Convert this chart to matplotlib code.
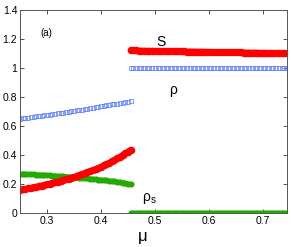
import numpy as np
import matplotlib
matplotlib.use("Agg")
import matplotlib.pyplot as plt

plt.rcParams['font.family'] = ['Liberation Sans', 'DejaVu Sans']

# branch below the transition (mu ~ 0.25 .. 0.455)
mu_low = np.linspace(0.25, 0.455, 42)
S_low = [0.160, 0.163, 0.166, 0.170, 0.173, 0.177, 0.181, 0.185, 0.189, 0.193,
         0.197, 0.202, 0.206, 0.211, 0.216, 0.221, 0.226, 0.231, 0.237, 0.242,
         0.248, 0.254, 0.260, 0.266, 0.273, 0.280, 0.287, 0.294, 0.302, 0.310,
         0.318, 0.327, 0.336, 0.345, 0.355, 0.365, 0.376, 0.387, 0.399, 0.411,
         0.423, 0.435]
rho_low = [0.650, 0.652, 0.655, 0.657, 0.660, 0.662, 0.665, 0.668, 0.670, 0.673,
           0.676, 0.678, 0.681, 0.684, 0.687, 0.690, 0.692, 0.695, 0.698, 0.701,
           0.704, 0.707, 0.710, 0.713, 0.716, 0.719, 0.722, 0.725, 0.728, 0.731,
           0.735, 0.738, 0.741, 0.744, 0.748, 0.751, 0.754, 0.758, 0.761, 0.765,
           0.768, 0.772]
rhos_low = [0.270, 0.269, 0.268, 0.267, 0.266, 0.265, 0.264, 0.263, 0.262, 0.261,
            0.260, 0.259, 0.257, 0.256, 0.255, 0.253, 0.252, 0.251, 0.249, 0.248,
            0.246, 0.245, 0.243, 0.241, 0.240, 0.238, 0.236, 0.234, 0.232, 0.230,
            0.228, 0.226, 0.224, 0.222, 0.219, 0.217, 0.214, 0.212, 0.209, 0.206,
            0.202, 0.197]

# branch above the transition (mu ~ 0.455 .. 0.745)
mu_high = np.linspace(0.455, 0.745, 59)
S_high = [1.120, 1.120, 1.120, 1.119, 1.119, 1.119, 1.118, 1.118, 1.118, 1.117,
          1.117, 1.117, 1.116, 1.116, 1.116, 1.115, 1.115, 1.115, 1.114, 1.114,
          1.114, 1.113, 1.113, 1.113, 1.112, 1.112, 1.112, 1.111, 1.111, 1.111,
          1.110, 1.110, 1.110, 1.109, 1.109, 1.109, 1.108, 1.108, 1.108, 1.107,
          1.107, 1.107, 1.106, 1.106, 1.106, 1.105, 1.105, 1.105, 1.104, 1.104,
          1.104, 1.103, 1.103, 1.103, 1.102, 1.102, 1.102, 1.101, 1.101]
rho_high = [0.998] * 59
rhos_high = [0.0] * 59

xticks = [0.3, 0.4, 0.5, 0.6, 0.7]
yticks = [0, 0.2, 0.4, 0.6, 0.8, 1, 1.2, 1.4]
ytick_labels = ["0", "0.2", "0.4", "0.6", "0.8", "1", "1.2", "1.4"]

fig = plt.figure(figsize=(2.91, 2.47), dpi=100)
ax = fig.add_axes([0.069, 0.138, 0.917, 0.822])

red = "#ff0000"
green = "#22aa00"
blue = "#5577ff"

for mu, s, r, rs in [(mu_low, S_low, rho_low, rhos_low),
                     (mu_high, S_high, rho_high, rhos_high)]:
    ax.plot(mu, r, ls="none", marker="s", ms=2.5, mfc="none", mec=blue, mew=0.5)
    ax.plot(mu, rs, ls="-", lw=3.2, marker="o", ms=3.4, color=green, mec=green,
            solid_capstyle="round")
    ax.plot(mu, s, ls="-", lw=4.2, marker="o", ms=4.4, color=red, mec=red,
            solid_capstyle="round")

ax.set_xlim(0.25, 0.745)
ax.set_ylim(0, 1.4)
ax.set_xticks(xticks)
ax.set_yticks(yticks)
ax.set_yticklabels(ytick_labels)
ax.tick_params(direction="in", length=3, width=0.6, labelsize=7.5,
               top=True, right=True, colors="#333333", labelcolor="black", pad=2)
for sp in ax.spines.values():
    sp.set_linewidth(0.7)
    sp.set_color("#555555")

ax.text(0.287, 1.24, "(a)", fontsize=7, va="center")
ax.text(0.511, 1.18, "S", fontsize=10, ha="center", va="center")
ax.text(0.533, 0.85, "ρ", fontsize=10, ha="center", va="center")
ax.text(0.49, 0.10, r"$\mathregular{ρ_s}$", fontsize=10, ha="center", va="center")
ax.set_xlabel("μ", fontsize=12, va="center")
ax.xaxis.set_label_coords((143 - 20) / 267, -0.115)

fig.savefig("out.png", dpi=100)
